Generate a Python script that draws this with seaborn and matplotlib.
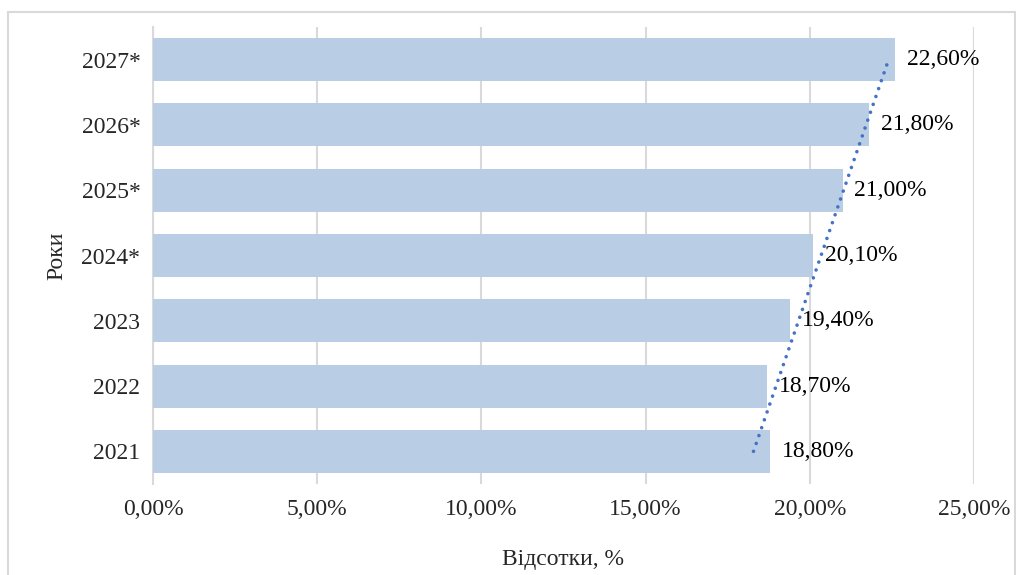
import numpy as np
import pandas as pd
import matplotlib
matplotlib.use("Agg")
import matplotlib.pyplot as plt
import seaborn as sns
from matplotlib.lines import Line2D

years = ["2027*", "2026*", "2025*", "2024*", "2023", "2022", "2021"]
values = [22.6, 21.8, 21.0, 20.1, 19.4, 18.7, 18.8]
x_ticks = [0, 5, 10, 15, 20, 25]
x_tick_labels = ["0,00%", "5,00%", "10,00%", "15,00%", "20,00%", "25,00%"]

sns.set_theme(style="white")
plt.rcParams['font.family'] = ['Liberation Serif', 'DejaVu Serif']

df = pd.DataFrame({"year": years, "value": values})

fig = plt.figure(figsize=(10.16, 5.75), dpi=100)
ax = fig.add_axes([153/1016, 1 - 484/575, (974-153)/1016, (484-27)/575])

ax.set_axisbelow(True)
for t in x_ticks:
    ax.axvline(t, color="#D9D9D9", lw=1.5, zorder=0)

sns.barplot(data=df, x="value", y="year", order=years, color="#B9CDE5",
            saturation=1, width=0.66, linewidth=0, ax=ax, zorder=2)

# linear trendline (chronological order)
chron = np.arange(len(values))
vals_chron = np.array(values[::-1])
slope, intercept = np.polyfit(chron, vals_chron, 1)
fit = slope * chron + intercept
ypos = (len(values) - 1) - chron
ax.plot(fit, ypos, linestyle=(0, (0.01, 2.3)), dash_capstyle="round",
        color="#4472C4", lw=2.6, zorder=3)

for i, v in enumerate(values):
    ax.text(v + 0.36, i, f"{v:.2f}".replace(".", ",") + "%", va="center",
            ha="left", fontsize=17, color="black", zorder=4)

ax.set_xlim(0, 25)
ax.set_ylim(len(values) - 0.5, -0.5)
ax.set_xticks(x_ticks)
ax.set_xticklabels(x_tick_labels, fontsize=17)
ax.tick_params(axis="y", labelsize=17, length=0, pad=9)
ax.tick_params(axis="x", length=0, pad=11)
ax.set_xlabel("Відсотки, %", fontsize=17, labelpad=21)
ax.set_ylabel("Роки", fontsize=17, labelpad=10)
for s in ["top", "right", "bottom"]:
    ax.spines[s].set_visible(False)
ax.spines["left"].set_color("#D9D9D9")
ax.spines["left"].set_linewidth(1.5)
ax.spines["left"].set_zorder(1)

# outer chart border
x0, x1 = 8/1016, 1015/1016
y0 = 1 - 12/575
fig.add_artist(Line2D([x0, x1], [y0, y0], transform=fig.transFigure, color="#D9D9D9", lw=1.5))
fig.add_artist(Line2D([x0, x0], [y0, 0], transform=fig.transFigure, color="#D9D9D9", lw=1.5))
fig.add_artist(Line2D([x1, x1], [y0, 0], transform=fig.transFigure, color="#D9D9D9", lw=1.5))

fig.savefig("out.png", dpi=100)
